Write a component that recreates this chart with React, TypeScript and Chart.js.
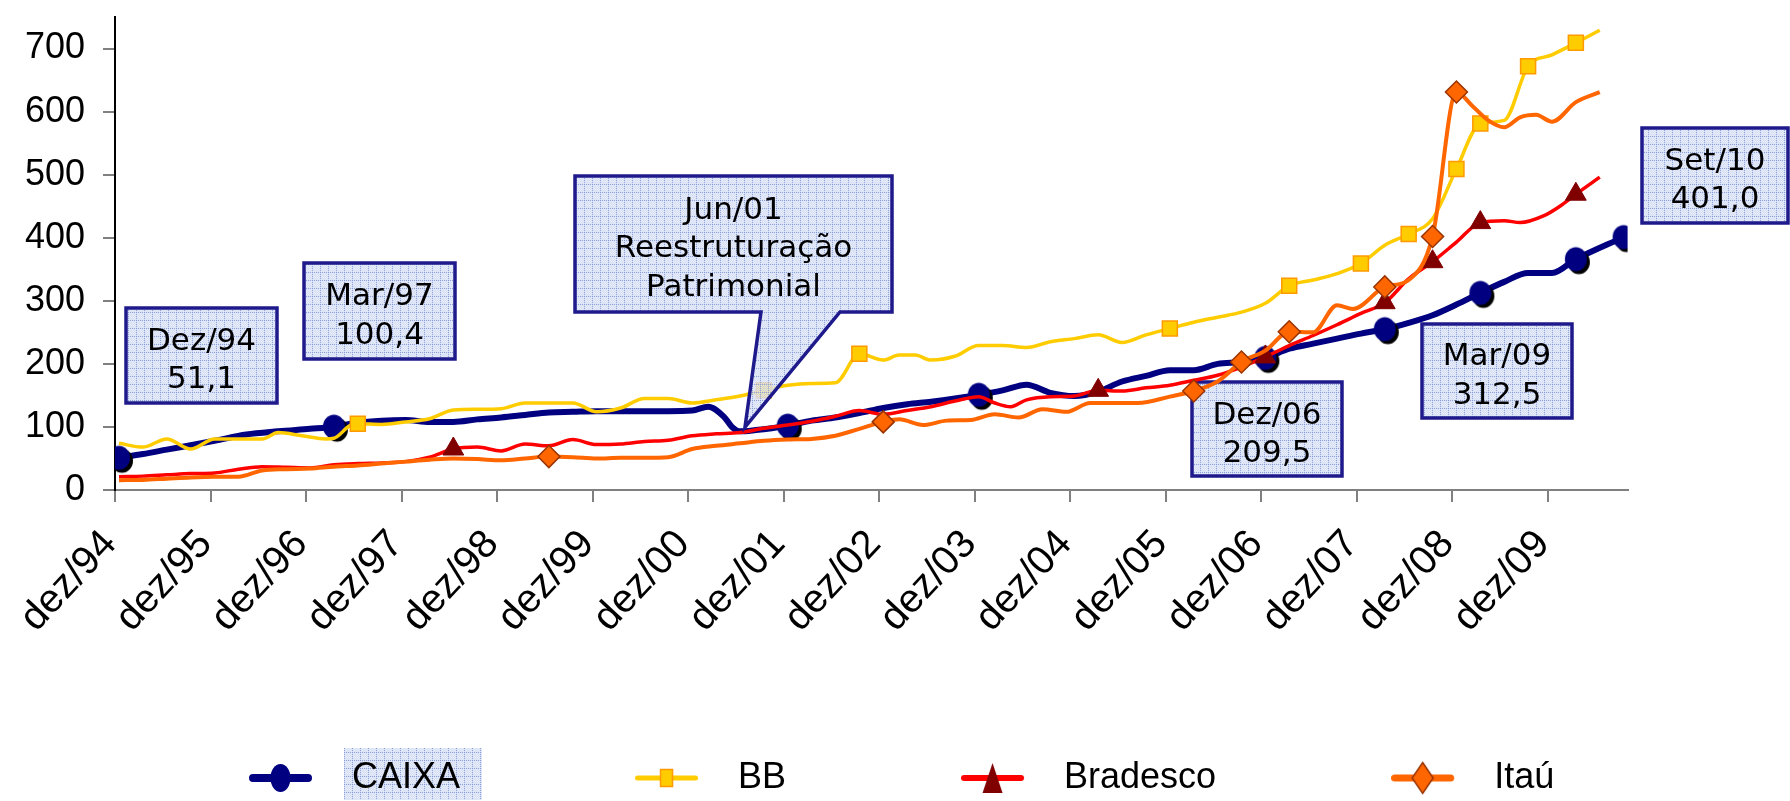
import React, { useEffect, useRef } from 'react';
import { Chart, registerables } from 'chart.js';

Chart.register(...registerables);

// ---------- data ----------
const xTickLabels = ['dez/94', 'dez/95', 'dez/96', 'dez/97', 'dez/98', 'dez/99', 'dez/00', 'dez/01', 'dez/02', 'dez/03', 'dez/04', 'dez/05', 'dez/06', 'dez/07', 'dez/08', 'dez/09'];
const yTickValues = [0, 100, 200, 300, 400, 500, 600, 700];
const seriesNames = ['CAIXA', 'BB', 'Bradesco', 'Itaú'];

// month index: 0 = dez/94
const caixaMonths = [0, 3, 6, 9, 12, 16, 20, 24, 27, 30, 33, 36, 39, 42, 45, 48, 51, 54, 57, 60, 63, 66, 69, 72, 74, 76, 77, 78, 80, 82, 84, 87, 90, 93, 96, 99, 102, 105, 108, 111, 114, 117, 120, 123, 126, 129, 132, 135, 138, 141, 144, 147, 150, 153, 156, 159, 162, 165, 168, 171, 174, 177, 180, 183, 189];
const caixaValues = [51.1, 57, 64, 71, 78, 88, 93, 97, 100.4, 107, 110, 111, 108, 108, 112, 115, 119, 123, 124, 125, 125, 125, 125, 126, 132, 116, 100, 93, 95, 98, 102, 110, 115, 122, 130, 136, 140, 145, 151, 158, 167, 154, 149, 156, 172, 181, 190, 190, 200, 203, 209.5, 224, 232, 240, 248, 255, 265, 277, 294, 312.5, 330, 344, 344, 366, 401.0];
const caixaMarkers = [0, 27, 84, 108, 144, 159, 171, 183, 189];

const bbMonths = [0, 3, 6, 9, 12, 15, 18, 20, 23, 26, 27, 29, 30, 33, 36, 39, 42, 45, 48, 51, 54, 57, 60, 63, 66, 69, 72, 75, 78, 81, 84, 87, 90, 93, 96, 98, 100, 102, 105, 108, 111, 114, 117, 120, 123, 126, 129, 132, 135, 138, 141, 144, 147, 150, 153, 156, 159, 162, 165, 168, 171, 174, 177, 180, 183, 186];
const bbValues = [74, 68, 81, 65, 81, 81, 81, 91, 86, 81, 82, 102, 105, 104, 108, 113, 127, 128, 129, 138, 138, 138, 124, 130, 145, 145, 138, 143, 149, 158, 166, 169, 170, 216, 206, 214, 214, 206, 212, 229, 229, 226, 235, 240, 246, 234, 246, 256, 266, 274, 282, 296, 324, 333, 343, 359, 388, 406, 430, 509, 581, 586, 672, 690, 709, 729];
const bbMarkers = [30, 81, 93, 132, 147, 156, 162, 168, 171, 177, 183];

const bradescoMonths = [0, 3, 6, 9, 12, 15, 18, 21, 24, 27, 30, 33, 36, 39, 42, 45, 48, 51, 54, 57, 60, 63, 66, 69, 72, 75, 78, 81, 84, 87, 90, 93, 96, 99, 102, 105, 108, 110, 112, 114, 117, 120, 123, 126, 129, 132, 135, 138, 141, 144, 147, 150, 153, 156, 159, 162, 165, 168, 171, 174, 176, 179, 181, 183, 186];
const bradescoValues = [21, 22, 24, 26, 27, 33, 37, 36, 35, 40, 42, 43, 45, 52, 65, 68, 62, 73, 70, 80, 72, 73, 77, 79, 86, 89, 91, 98, 103, 109, 117, 126, 120, 126, 132, 141, 148, 138, 132, 143, 148, 149, 158, 157, 162, 166, 174, 182, 195, 211, 229, 245, 262, 280, 297, 335, 362, 393, 424, 427, 424, 435, 450, 469, 496];
const bradescoMarkers = [42, 123, 144, 159, 165, 171, 183];

const itauMonths = [0, 3, 6, 9, 12, 15, 18, 21, 24, 27, 30, 33, 36, 39, 42, 45, 48, 51, 54, 57, 60, 63, 66, 69, 72, 75, 78, 81, 84, 87, 90, 93, 96, 98, 101, 104, 107, 110, 113, 116, 119, 122, 125, 128, 132, 135, 138, 141, 144, 147, 150, 153, 155, 159, 162, 165, 168, 170, 172, 174, 176, 178, 180, 183, 186];
const itauValues = [15.6, 16, 18, 20, 21, 21, 31, 33, 34, 37, 39, 42, 45, 48, 50, 49, 47, 50, 53, 52, 50, 51, 51, 52, 65, 70, 74, 78, 80, 81, 86, 97, 108, 112, 103, 110, 111, 120, 115, 128, 124, 138, 138, 138, 148, 157, 172, 203, 221, 251, 250, 293, 287, 322, 333, 402, 631, 609, 586, 575, 591, 595, 584, 615, 631];
const itauMarkers = [54, 96, 135, 141, 147, 159, 165, 168];

// ---------- annotations (canvas pixels) ----------
const callouts = [
  { box: [126, 308, 277, 403], lines: ['Dez/94', '51,1'], ys: [339, 377], behind: false },
  { box: [304, 263, 455, 359], lines: ['Mar/97', '100,4'], ys: [294, 332.5], behind: false },
  { box: [575, 176, 892, 312], lines: ['Jun/01', 'Reestruturação', 'Patrimonial'], ys: [207.5, 246, 284.5], pointer: [761, 840, 745, 427], behind: false },
  { box: [1192, 382, 1342, 476], lines: ['Dez/06', '209,5'], ys: [412.5, 451], behind: true },
  { box: [1422, 324, 1572, 418], lines: ['Mar/09', '312,5'], ys: [354, 392.5], behind: false },
  { box: [1642, 128, 1788, 223], lines: ['Set/10', '401,0'], ys: [158.3, 196.7], behind: false },
];

const AXIS_FONT = '"Liberation Sans", Arial, sans-serif';
const NOTE_FONT = '"DejaVu Sans", Verdana, sans-serif';

function makeCanvas(w: number, h: number, draw: (c: CanvasRenderingContext2D) => void) {
  const c = document.createElement('canvas');
  c.width = w;
  c.height = h;
  draw(c.getContext('2d') as CanvasRenderingContext2D);
  return c;
}

function makeTile() {
  return makeCanvas(8, 8, (c) => {
    c.fillStyle = 'rgba(205,215,243,0.78)';
    c.fillRect(0, 0, 8, 8);
    c.fillStyle = 'rgba(255,255,255,0.35)';
    for (let y = 0; y < 8; y++) for (let x = 0; x < 8; x++) if ((x + y) % 2 === 0) c.fillRect(x, y, 1, 1);
    c.fillStyle = 'rgba(130,150,215,0.85)';
    for (let i = 0; i < 8; i += 2) {
      c.fillRect(i, 0, 1, 1);
      c.fillRect(0, i, 1, 1);
    }
  });
}

function caixaPointImg() {
  return makeCanvas(32, 33, (c) => {
    c.fillStyle = '#000';
    c.beginPath();
    c.ellipse(19, 19.5, 11, 12, 0, 0, Math.PI * 2);
    c.fill();
    c.fillStyle = '#000080';
    c.beginPath();
    c.ellipse(16, 16.5, 11, 12, 0, 0, Math.PI * 2);
    c.fill();
  });
}

function legendImg(kind: number) {
  return makeCanvas(85, 34, (c) => {
    const cy = 17;
    const cx = 31.5;
    c.lineCap = 'round';
    const colors = ['#000080', '#FFCC00', '#FF0000', '#FF6600'];
    const widths = [8, 5, 6, 7];
    c.strokeStyle = colors[kind];
    c.lineWidth = widths[kind];
    c.beginPath();
    c.moveTo(widths[kind] / 2, cy);
    c.lineTo(63 - widths[kind] / 2, cy);
    c.stroke();
    c.lineCap = 'butt';
    if (kind === 0) {
      c.fillStyle = '#000080';
      c.beginPath();
      c.ellipse(cx, cy, 10, 14, 0, 0, Math.PI * 2);
      c.fill();
    } else if (kind === 1) {
      c.fillStyle = '#FFCC00';
      c.strokeStyle = '#FF9900';
      c.lineWidth = 1.5;
      c.fillRect(cx - 6, cy - 8.5, 12, 17);
      c.strokeRect(cx - 6, cy - 8.5, 12, 17);
    } else if (kind === 2) {
      c.fillStyle = '#800000';
      c.beginPath();
      c.moveTo(cx, cy - 15);
      c.lineTo(cx + 10, cy + 15);
      c.lineTo(cx - 10, cy + 15);
      c.closePath();
      c.fill();
    } else {
      c.fillStyle = '#FF6600';
      c.strokeStyle = '#993300';
      c.lineWidth = 1.5;
      c.beginPath();
      c.moveTo(cx, cy - 15.5);
      c.lineTo(cx + 10.5, cy);
      c.lineTo(cx, cy + 15.5);
      c.lineTo(cx - 10.5, cy);
      c.closePath();
      c.fill();
      c.stroke();
    }
  });
}

function toPoints(months: number[], values: number[]) {
  return months.map((m, i) => ({ x: m, y: values[i] }));
}
function radii(months: number[], markers: number[], r: number) {
  return months.map((m) => (markers.includes(m) ? r : 0));
}

function drawCallout(ctx: CanvasRenderingContext2D, c: any, pattern: CanvasPattern) {
  const [x0, y0, x1, y1] = c.box;
  ctx.save();
  ctx.beginPath();
  ctx.moveTo(x0, y0);
  ctx.lineTo(x1, y0);
  ctx.lineTo(x1, y1);
  if (c.pointer) {
    const [bx0, bx1, tx, ty] = c.pointer;
    ctx.lineTo(bx1, y1);
    ctx.lineTo(tx, ty);
    ctx.lineTo(bx0, y1);
  }
  ctx.lineTo(x0, y1);
  ctx.closePath();
  ctx.fillStyle = pattern;
  ctx.fill();
  ctx.lineWidth = 3.5;
  ctx.lineJoin = 'miter';
  ctx.strokeStyle = '#1E1A8C';
  ctx.stroke();
  ctx.fillStyle = '#000';
  ctx.font = `31px ${NOTE_FONT}`;
  ctx.textAlign = 'center';
  ctx.textBaseline = 'alphabetic';
  const cx = (x0 + x1) / 2;
  c.lines.forEach((t: string, i: number) => {
    ctx.fillText(t, cx, c.ys[i] + 11.3);
  });
  ctx.restore();
}

const noLabelClip = (s: any) => {
  s._computeLabelArea = () => undefined;
};

export default function App() {
  const ref = useRef<HTMLCanvasElement>(null);

  useEffect(() => {
    document.body.style.margin = '0';
    document.body.style.overflow = 'hidden';
    const canvas = ref.current as HTMLCanvasElement;
    const tile = makeTile();
    const pattern = (canvas.getContext('2d') as CanvasRenderingContext2D).createPattern(tile, 'repeat') as CanvasPattern;
    const legendImgs = [0, 1, 2, 3].map(legendImg);
    const cPoint = caixaPointImg();

    const calloutPlugin = {
      id: 'callouts',
      beforeDraw(chart: any) {
        const lg = chart.legend;
        if (!lg || !lg.legendHitBoxes || !lg.legendHitBoxes[0]) return;
        const hb = lg.legendHitBoxes[0];
        const ctx = chart.ctx;
        const textX = hb.left + 85 + 18;
        const cy = lg.top + lg.options.labels.padding + 18;
        ctx.save();
        ctx.fillStyle = pattern;
        ctx.fillRect(textX - 8, cy - 30, 138, 52);
        ctx.restore();
      },
      beforeDatasetsDraw(chart: any) {
        callouts.filter((c) => c.behind).forEach((c) => drawCallout(chart.ctx, c, pattern));
      },
      afterDatasetsDraw(chart: any) {
        callouts.filter((c) => !c.behind).forEach((c) => drawCallout(chart.ctx, c, pattern));
      },
    };

    const common = {
      cubicInterpolationMode: 'monotone' as const,
      pointHoverRadius: 0,
      xAxisID: 'x',
      yAxisID: 'y',
    };

    const chart = new Chart(canvas, {
      type: 'line',
      data: {
        datasets: [
          {
            ...common,
            label: seriesNames[0],
            data: toPoints(caixaMonths, caixaValues),
            borderColor: '#000080',
            borderWidth: 6,
            pointStyle: cPoint as any,
            pointRadius: radii(caixaMonths, caixaMarkers, 11),
            order: 4,
          },
          {
            ...common,
            label: seriesNames[1],
            data: toPoints(bbMonths, bbValues),
            borderColor: '#FFCC00',
            borderWidth: 3.5,
            pointStyle: 'rect',
            pointRadius: radii(bbMonths, bbMarkers, 10.6),
            pointBackgroundColor: '#FFCC00',
            pointBorderColor: '#FF9900',
            pointBorderWidth: 1.5,
            order: 3,
          },
          {
            ...common,
            label: seriesNames[2],
            data: toPoints(bradescoMonths, bradescoValues),
            borderColor: '#FF0000',
            borderWidth: 3.5,
            pointStyle: 'triangle',
            pointRadius: radii(bradescoMonths, bradescoMarkers, 12),
            pointBackgroundColor: '#800000',
            pointBorderColor: '#800000',
            pointBorderWidth: 1,
            order: 2,
          },
          {
            ...common,
            label: seriesNames[3],
            data: toPoints(itauMonths, itauValues),
            borderColor: '#FF6600',
            borderWidth: 4,
            pointStyle: 'rectRot',
            pointRadius: radii(itauMonths, itauMarkers, 11),
            pointBackgroundColor: '#FF6600',
            pointBorderColor: '#993300',
            pointBorderWidth: 1.5,
            order: 1,
          },
        ],
      },
      options: {
        responsive: false,
        animation: false,
        events: [],
        layout: { padding: { left: 74, right: 0, top: 10, bottom: -5 } },
        plugins: {
          tooltip: { enabled: false },
          legend: {
            position: 'bottom',
            align: 'start',
            labels: {
              usePointStyle: true,
              pointStyleWidth: 85,
              padding: 175,
              color: '#000',
              font: { size: 36, family: AXIS_FONT },
              generateLabels: () =>
                seriesNames.map((name, i) => ({
                  text: name,
                  pointStyle: legendImgs[i] as any,
                  fillStyle: 'rgba(0,0,0,0)',
                  strokeStyle: 'rgba(0,0,0,0)',
                  lineWidth: 0,
                  hidden: false,
                  datasetIndex: i,
                  fontColor: '#000',
                })),
            },
          },
        },
        scales: {
          x: {
            type: 'linear',
            min: -0.5,
            max: 189.5,
            afterBuildTicks: (s: any) => {
              s.ticks = xTickLabels.map((_, i) => ({ value: i * 12 - 0.5 }));
            },
            afterFit: (s: any) => {
              s.height = 95;
              s.paddingLeft = 0;
              s.paddingRight = 0;
              noLabelClip(s);
            },
            ticks: {
              autoSkip: false,
              minRotation: 47,
              maxRotation: 47,
              padding: 19,
              labelOffset: -5,
              color: '#000',
              font: { size: 40, family: AXIS_FONT },
              callback: (_v: any, i: number) => xTickLabels[i],
            },
            grid: { drawOnChartArea: false, tickLength: 12, color: '#808080', lineWidth: 2 },
            border: { color: '#808080', width: 2 },
          },
          y: {
            type: 'linear',
            position: 'left',
            min: 0,
            max: 750,
            afterBuildTicks: (s: any) => {
              s.ticks = yTickValues.map((v) => ({ value: v }));
            },
            afterFit: (s: any) => {
              s.width = 41;
              s.paddingTop = 0;
              s.paddingBottom = 0;
              noLabelClip(s);
            },
            ticks: {
              padding: 18,
              color: '#000',
              font: { size: 36, family: AXIS_FONT },
              callback: (v: any) => String(v),
            },
            grid: { drawOnChartArea: false, tickLength: 12, color: '#808080', lineWidth: 2 },
            border: { color: '#000', width: 2 },
          },
          yR: {
            type: 'linear',
            position: 'right',
            display: true,
            grid: { display: false },
            ticks: { display: false },
            border: { display: false },
            afterFit: (s: any) => {
              s.width = 162.4;
            },
          },
        },
      } as any,
      plugins: [calloutPlugin as any],
    });

    return () => chart.destroy();
  }, []);

  return (
    <div style={{ width: 1790, height: 801, background: '#fff', overflow: 'hidden' }}>
      <canvas ref={ref} width={1790} height={801} style={{ display: 'block', width: 1790, height: 801 }} />
    </div>
  );
}
